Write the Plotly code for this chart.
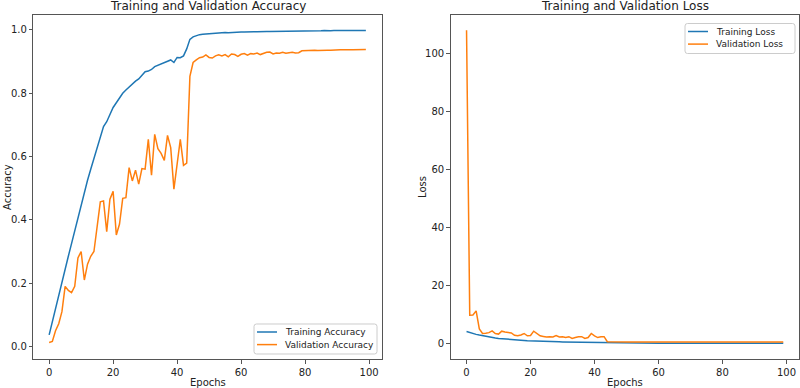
import plotly.graph_objects as go

epochs = list(range(100))

train_acc = [0.037, 0.08, 0.12, 0.16, 0.20, 0.245, 0.285, 0.325, 0.365, 0.41,
             0.445, 0.49, 0.525, 0.56, 0.595, 0.63, 0.665, 0.695, 0.71, 0.735,
             0.755, 0.77, 0.785, 0.80, 0.81, 0.82, 0.83, 0.838, 0.845, 0.855,
             0.868, 0.87, 0.875, 0.884, 0.888, 0.892, 0.897, 0.90, 0.905, 0.897,
             0.913, 0.912, 0.918, 0.94, 0.97, 0.978, 0.982, 0.985, 0.986, 0.987,
             0.988, 0.990, 0.989, 0.991, 0.991, 0.992, 0.991, 0.992, 0.993, 0.992,
             0.993, 0.993, 0.994, 0.993, 0.994, 0.994, 0.995, 0.994, 0.995, 0.995,
             0.995, 0.995, 0.996, 0.995, 0.996, 0.996, 0.996, 0.995, 0.996, 0.997,
             0.997, 0.997, 0.996, 0.997, 0.997, 0.997, 0.998, 0.997, 0.997, 0.998,
             0.998, 0.997, 0.998, 0.998, 0.998, 0.998, 0.998, 0.998, 0.998, 0.998]

val_acc = [0.013, 0.016, 0.05, 0.072, 0.11, 0.19, 0.177, 0.17, 0.19, 0.28,
           0.30, 0.21, 0.26, 0.285, 0.30, 0.38, 0.457, 0.46, 0.363, 0.465,
           0.49, 0.352, 0.387, 0.468, 0.47, 0.565, 0.523, 0.557, 0.513, 0.562,
           0.56, 0.654, 0.541, 0.67, 0.625, 0.61, 0.588, 0.667, 0.628, 0.497,
           0.575, 0.654, 0.572, 0.579, 0.853, 0.897, 0.905, 0.912, 0.914, 0.921,
           0.913, 0.911, 0.918, 0.921, 0.918, 0.922, 0.915, 0.924, 0.922, 0.916,
           0.923, 0.925, 0.920, 0.925, 0.924, 0.927, 0.922, 0.926, 0.929, 0.930,
           0.924, 0.927, 0.926, 0.929, 0.926, 0.928, 0.929, 0.927, 0.928, 0.934,
           0.935, 0.934, 0.935, 0.936, 0.935, 0.936, 0.935, 0.936, 0.936, 0.937,
           0.936, 0.937, 0.937, 0.936, 0.937, 0.937, 0.937, 0.938, 0.937, 0.938]

train_loss = [4.1, 3.7, 3.4, 3.1, 2.85, 2.6, 2.4, 2.2, 2.0, 1.85,
              1.7, 1.58, 1.47, 1.37, 1.28, 1.2, 1.12, 1.05, 0.98, 0.91,
              0.85, 0.8, 0.75, 0.71, 0.67, 0.63, 0.6, 0.57, 0.54, 0.52,
              0.5, 0.48, 0.46, 0.44, 0.42, 0.4, 0.38, 0.36, 0.34, 0.33,
              0.31, 0.29, 0.27, 0.25, 0.2, 0.1, 0.08, 0.07, 0.06, 0.06,
              0.05, 0.05, 0.05, 0.04, 0.04, 0.04, 0.04, 0.04, 0.03, 0.03,
              0.03, 0.03, 0.03, 0.03, 0.03, 0.03, 0.03, 0.02, 0.02, 0.02,
              0.02, 0.02, 0.02, 0.02, 0.02, 0.02, 0.02, 0.02, 0.02, 0.02,
              0.02, 0.02, 0.02, 0.02, 0.02, 0.02, 0.01, 0.01, 0.01, 0.01,
              0.01, 0.01, 0.01, 0.01, 0.01, 0.01, 0.01, 0.01, 0.01, 0.01]

val_loss = [108.0, 9.7, 9.8, 11.2, 5.0, 3.4, 3.5, 3.7, 4.3, 3.4,
            3.2, 4.2, 3.9, 3.8, 3.6, 2.8, 2.6, 2.9, 3.4, 2.6,
            2.7, 4.2, 3.4, 2.6, 2.4, 2.2, 2.3, 2.2, 2.7, 2.2,
            2.3, 2.0, 2.3, 1.7, 2.0, 2.3, 2.3, 1.7, 2.0, 3.4,
            2.6, 2.0, 2.3, 2.3, 0.55, 0.5, 0.48, 0.47, 0.47, 0.46,
            0.46, 0.46, 0.47, 0.46, 0.46, 0.45, 0.46, 0.45, 0.45, 0.46,
            0.45, 0.45, 0.45, 0.46, 0.45, 0.45, 0.45, 0.45, 0.46, 0.45,
            0.45, 0.45, 0.46, 0.45, 0.45, 0.45, 0.45, 0.45, 0.45, 0.46,
            0.46, 0.46, 0.46, 0.47, 0.46, 0.46, 0.47, 0.46, 0.47, 0.47,
            0.47, 0.47, 0.48, 0.47, 0.47, 0.48, 0.48, 0.48, 0.48, 0.48]

x_ticks = [0, 20, 40, 60, 80, 100]
acc_ticks = [0.0, 0.2, 0.4, 0.6, 0.8, 1.0]
acc_tick_labels = ["0.0", "0.2", "0.4", "0.6", "0.8", "1.0"]
loss_ticks = [0, 20, 40, 60, 80, 100]

BLUE = "#1f77b4"
ORANGE = "#ff7f0e"
FONT = "DejaVu Sans"
W, H = 800, 388

fig = go.Figure()
fig.add_trace(go.Scatter(x=epochs, y=train_acc, mode="lines", name="Training Accuracy",
                         line=dict(color=BLUE, width=1.5), xaxis="x", yaxis="y"))
fig.add_trace(go.Scatter(x=epochs, y=val_acc, mode="lines", name="Validation Accuracy",
                         line=dict(color=ORANGE, width=1.5), xaxis="x", yaxis="y"))
fig.add_trace(go.Scatter(x=epochs, y=train_loss, mode="lines", name="Training Loss",
                         line=dict(color=BLUE, width=1.5), xaxis="x2", yaxis="y2"))
fig.add_trace(go.Scatter(x=epochs, y=val_loss, mode="lines", name="Validation Loss",
                         line=dict(color=ORANGE, width=1.5), xaxis="x2", yaxis="y2"))

L1, R1 = 33.3, 381.7
L2, R2 = 450.7, 799.1
T, B = 15, 359

def px_x(p):
    return p / W

def px_y(p):
    return 1 - p / H

axis_common = dict(showline=True, linecolor="#555", linewidth=1, mirror=True,
                   ticks="outside", ticklen=3.5, tickcolor="#555", tickwidth=1,
                   showgrid=False, zeroline=False,
                   tickfont=dict(family=FONT, size=10, color="#222"))

xr = [-4.95, 103.95]
fig.update_layout(
    width=W, height=H,
    margin=dict(l=0, r=0, t=0, b=0),
    paper_bgcolor="white", plot_bgcolor="white",
    font=dict(family=FONT, size=10, color="#222"),
    showlegend=False,
    xaxis=dict(domain=[px_x(L1), px_x(R1)], range=xr, tickvals=x_ticks, anchor="y", **axis_common),
    yaxis=dict(domain=[px_y(B), px_y(T)], range=[-0.0394, 1.047], tickvals=acc_ticks,
               ticktext=acc_tick_labels, anchor="x", **axis_common),
    xaxis2=dict(domain=[px_x(L2), px_x(R2)], range=xr, tickvals=x_ticks, anchor="y2", **axis_common),
    yaxis2=dict(domain=[px_y(B), px_y(T)], range=[-5.4, 113.3], tickvals=loss_ticks, anchor="x2", **axis_common),
)


def rounded_box(x0, y0, x1, y1, r=2.5):
    # pixel coords (y downward) -> paper path
    def P(x, y):
        return f"{px_x(x):.5f},{px_y(y):.5f}"
    return (f"M {P(x0 + r, y0)} L {P(x1 - r, y0)} Q {P(x1, y0)} {P(x1, y0 + r)} "
            f"L {P(x1, y1 - r)} Q {P(x1, y1)} {P(x1 - r, y1)} "
            f"L {P(x0 + r, y1)} Q {P(x0, y1)} {P(x0, y1 - r)} "
            f"L {P(x0, y0 + r)} Q {P(x0, y0)} {P(x0 + r, y0)} Z")


def add_legend(x0, y0, x1, y1, entries):
    fig.add_shape(type="path", path=rounded_box(x0, y0, x1, y1), xref="paper", yref="paper",
                  fillcolor="rgba(255,255,255,0.8)", line=dict(color="#cccccc", width=1))
    for i, (label, color) in enumerate(entries):
        yy = y0 + 8 + i * 12.6
        fig.add_shape(type="line", xref="paper", yref="paper",
                      x0=px_x(x0 + 3), x1=px_x(x0 + 23), y0=px_y(yy), y1=px_y(yy),
                      line=dict(color=color, width=1.5))
        fig.add_annotation(text=label, x=px_x(x0 + 28.5), y=px_y(yy), xref="paper", yref="paper",
                           xanchor="left", yanchor="middle", showarrow=False,
                           font=dict(family=FONT, size=9, color="#222"))


add_legend(254, 324, 377, 354, [(fig.data[0].name, BLUE), (fig.data[1].name, ORANGE)])
add_legend(685, 23.5, 795, 53.5, [(fig.data[2].name, BLUE), (fig.data[3].name, ORANGE)])

annots = [
    dict(text="Training and Validation Accuracy", x=px_x((L1 + R1) / 2), y=px_y(6), size=12),
    dict(text="Training and Validation Loss", x=px_x((L2 + R2) / 2), y=px_y(6), size=12),
    dict(text="Epochs", x=px_x((L1 + R1) / 2), y=px_y(382), size=10),
    dict(text="Epochs", x=px_x((L2 + R2) / 2), y=px_y(382), size=10),
]
for a in annots:
    fig.add_annotation(text=a["text"], x=a["x"], y=a["y"], xref="paper", yref="paper",
                       xanchor="center", yanchor="middle", showarrow=False,
                       font=dict(family=FONT, size=a["size"], color="#222"))
fig.add_annotation(text="Accuracy", x=px_x(7), y=px_y((T + B) / 2), xref="paper", yref="paper",
                   xanchor="center", yanchor="middle", showarrow=False, textangle=-90,
                   font=dict(family=FONT, size=10, color="#222"))
fig.add_annotation(text="Loss", x=px_x(422), y=px_y((T + B) / 2), xref="paper", yref="paper",
                   xanchor="center", yanchor="middle", showarrow=False, textangle=-90,
                   font=dict(family=FONT, size=10, color="#222"))

fig.write_html("out.html")
